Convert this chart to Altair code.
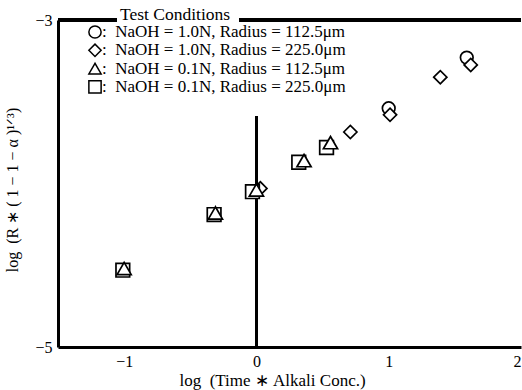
import altair as alt
import pandas as pd

# ---- data ----
circle_x = [1.0, 1.59]
circle_y = [-3.54, -3.23]
diamond_x = [0.03, 0.71, 1.01, 1.39, 1.62]
diamond_y = [-4.03, -3.685, -3.58, -3.35, -3.275]
square_x = [-1.01, -0.32, -0.03, 0.32, 0.53]
square_y = [-4.53, -4.19, -4.05, -3.87, -3.78]
triangle_x = [-1.0, -0.31, 0.0, 0.36, 0.56]
triangle_y = [-4.52, -4.18, -4.04, -3.86, -3.75]

NB = "\u00a0"
series_names = ["circle", "diamond", "square", "triangle-up"]
legend_shapes = ["circle", "diamond", "triangle-up", "square"]
legend_labels = [
    f":{NB}{NB}NaOH{NB}={NB}1.0N, Radius{NB}={NB}112.5\u03bcm",
    f":{NB}{NB}NaOH{NB}={NB}1.0N, Radius{NB}={NB}225.0\u03bcm",
    f":{NB}{NB}NaOH{NB}={NB}0.1N, Radius{NB}={NB}112.5\u03bcm",
    f":{NB}{NB}NaOH{NB}={NB}0.1N, Radius{NB}={NB}225.0\u03bcm",
]
legend_title = "Test Conditions"
x_title = f"log{NB}{NB}(Time{NB}\u2217{NB}Alkali Conc.)"
y_title = f"log{NB}{NB}(R{NB}\u2217{NB}({NB}1{NB}\u2212{NB}1{NB}\u2212{NB}\u03b1{NB})\u00b9\u141f\u00b3)"
x_ticks = [-1, 0, 1, 2]
y_ticks = [-5, -4, -3]

FONT = "Liberation Serif"

rows = []
for name, xs, ys in [
    ("circle", circle_x, circle_y),
    ("diamond", diamond_x, diamond_y),
    ("square", square_x, square_y),
    ("triangle-up", triangle_x, triangle_y),
]:
    for i, (a, b) in enumerate(zip(xs, ys)):
        rows.append({"series": name, "x": a, "y": b, "k": len(rows)})
df = pd.DataFrame(rows)

xscale = alt.Scale(domain=[-1.5, 2], nice=False, zero=False)
yscale = alt.Scale(domain=[-5, -3], nice=False, zero=False)

points = alt.Chart(df).mark_point(filled=False, fill="white", fillOpacity=1,
                                  stroke="black", strokeWidth=1.7, opacity=1).encode(
    x=alt.X("x:Q", scale=xscale,
            axis=alt.Axis(values=x_ticks, format="d", title=x_title,
                          titleX=214, titleY=33, titleBaseline="middle")),
    y=alt.Y("y:Q", scale=yscale,
            axis=alt.Axis(values=y_ticks, format="d", title=None)),
    shape=alt.Shape("series:N", scale=alt.Scale(domain=series_names, range=series_names), legend=None),
    size=alt.Size("series:N", scale=alt.Scale(domain=series_names, range=[160, 200, 150, 190]), legend=None),
    order=alt.Order("k:Q"),
)

top_left = alt.Chart(df).mark_rule(color="black", strokeWidth=3).encode(
    x=alt.datum(-1.5, scale=xscale), x2=alt.datum(-1.055), y=alt.datum(-3, scale=yscale))
top_right = alt.Chart(df).mark_rule(color="black", strokeWidth=3).encode(
    x=alt.datum(-0.13), x2=alt.datum(2.0), y=alt.datum(-3))
zero_line = alt.Chart(df).mark_rule(color="black", strokeWidth=2.5).encode(
    x=alt.datum(0), y=alt.datum(-5), y2=alt.datum(-3.59))

leg_df = pd.DataFrame({"shape": legend_shapes, "label": legend_labels, "row": [0, 1, 2, 3]})
leg_base = alt.Chart(leg_df).transform_calculate(
    ly="12 + datum.row * 18.3", lx="37", tx="44")
leg_sym = leg_base.mark_point(filled=False, fill="white", fillOpacity=1, stroke="black",
                              strokeWidth=1.5, size=150).encode(
    x=alt.X("lx:Q", scale=None, axis=None),
    y=alt.Y("ly:Q", scale=None, axis=None),
    shape=alt.Shape("shape:N", scale=None),
)
leg_txt = leg_base.mark_text(align="left", baseline="middle", font=FONT, fontSize=17,
                             color="black").encode(
    x=alt.X("tx:Q", scale=None, axis=None),
    y=alt.Y("ly:Q", scale=None, axis=None),
    text="label:N",
)
leg_title = alt.Chart(pd.DataFrame({"t": [legend_title]})).mark_text(
    align="left", baseline="middle", font=FONT, fontSize=17.5, color="black").encode(
    x=alt.value(62), y=alt.value(-5), text="t:N")
y_title_mark = alt.Chart(pd.DataFrame({"t": [y_title]})).mark_text(
    align="center", baseline="middle", angle=270, font=FONT, fontSize=16, color="black").encode(
    x=alt.value(-45), y=alt.value(170), text="t:N")

chart = alt.layer(zero_line, top_left, top_right, points, leg_sym, leg_txt, leg_title,
                  y_title_mark).properties(
    width=463, height=327,
    padding={"left": 58, "top": 20, "right": 1, "bottom": 43},
    autosize=alt.AutoSizeParams(type="none"),
    background="white",
).configure_view(stroke=None).configure_axis(
    labelFont=FONT, labelFontSize=16, labelColor="black",
    titleFont=FONT, titleFontSize=17, titleColor="black", titleFontWeight="normal",
    domainColor="black", domainWidth=3, ticks=False, grid=False,
    labelPadding=6,
)

chart.save("out.html", embed_options={"renderer": "svg", "actions": False})
